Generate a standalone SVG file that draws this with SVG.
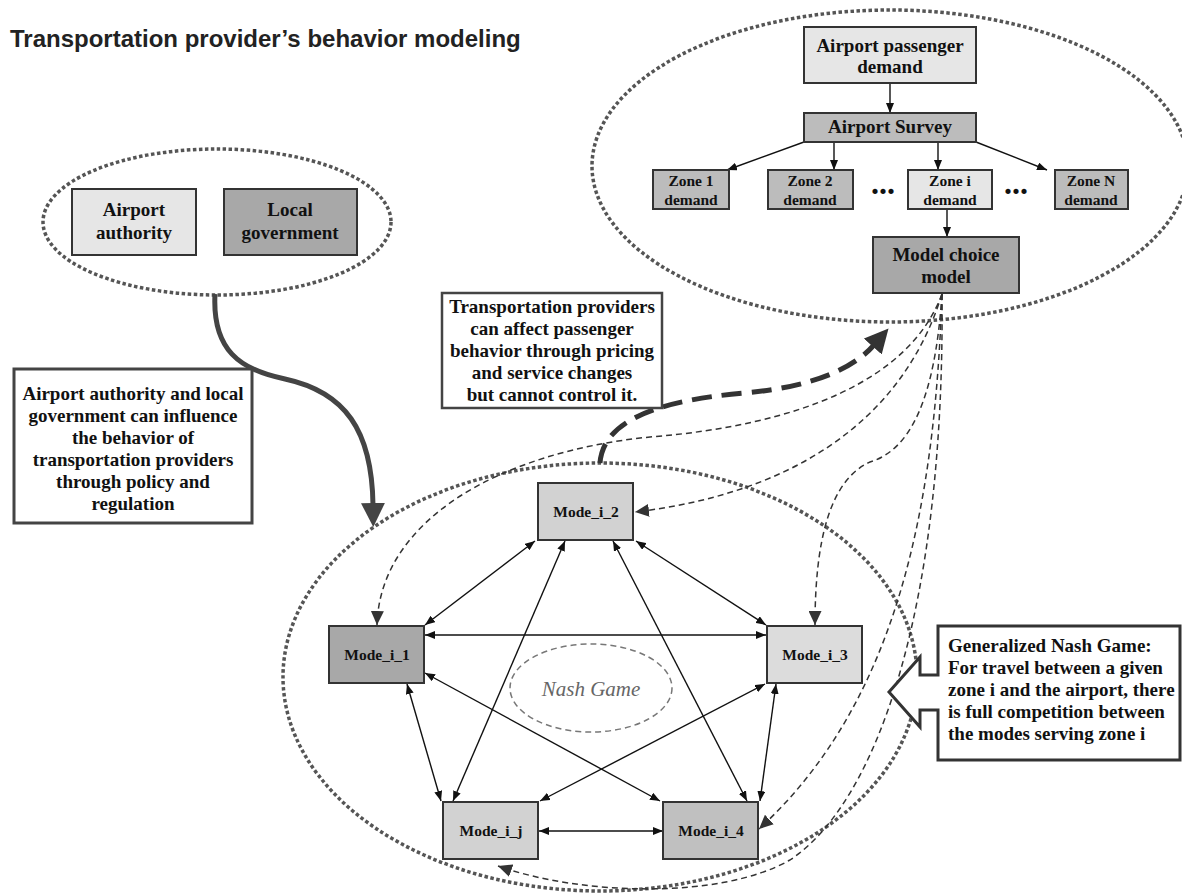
<svg xmlns="http://www.w3.org/2000/svg" width="1182" height="894" viewBox="0 0 1182 894">
<style>
.bg{fill:#fff}
.dot{fill:none;stroke:#555;stroke-width:3.5;stroke-dasharray:3.5 2.5}
.box{stroke:#333;stroke-width:2}
.tb{fill:#fff;stroke:#444;stroke-width:3}
.t{font-family:"Liberation Serif","Times New Roman",serif;font-weight:bold;fill:#111;text-anchor:middle}
.t19{font-size:19px}
.t15{font-size:15.5px}
.tl{text-anchor:start}
.ell{font-size:32px}
.solid{fill:none;stroke:#111;stroke-width:1.4}
.dash{fill:none;stroke:#333;stroke-width:1.5;stroke-dasharray:6 4}
.l1{fill:#e6e6e6}.l2{fill:#d2d2d2}.l3{fill:#dcdcdc}.d1{fill:#bcbcbc}.d2{fill:#a8a8a8}.d3{fill:#c0c0c0}
</style>
<defs>
<marker id="ah" viewBox="0 0 10 8" refX="10" refY="4" markerWidth="10" markerHeight="8" markerUnits="userSpaceOnUse" orient="auto-start-reverse"><path d="M0,0 L10,4 L0,8 z" fill="#111"/></marker>
<marker id="ahd" viewBox="0 0 14 13" refX="14" refY="6.5" markerWidth="14" markerHeight="13" markerUnits="userSpaceOnUse" orient="auto"><path d="M0,0 L14,6.5 L0,13 z" fill="#333"/></marker>
<marker id="ahk" viewBox="0 0 24 24" refX="2" refY="12" markerWidth="24" markerHeight="24" markerUnits="userSpaceOnUse" orient="auto"><path d="M0,0 L24,12 L0,24 z" fill="#333"/></marker>
<marker id="ahg" viewBox="0 0 24 24" refX="2" refY="12" markerWidth="24" markerHeight="24" markerUnits="userSpaceOnUse" orient="auto"><path d="M0,0 L24,12 L0,24 z" fill="#444"/></marker>
</defs>
<rect class="bg" width="1182" height="894"/>
<text x="10" y="47" style="font-family:'Liberation Sans',Arial,sans-serif;font-weight:bold;font-size:24px;fill:#222">Transportation provider’s behavior modeling</text>

<g id="groups">
<ellipse id="demand-group" class="dot" cx="890" cy="166" rx="298" ry="156"/>
<ellipse id="authority-group" class="dot" cx="217" cy="222" rx="174" ry="73"/>
<ellipse id="modes-group" class="dot" cx="600" cy="677" rx="317" ry="214"/>
<ellipse id="nash-game" cx="591" cy="688" rx="81" ry="44" fill="none" stroke="#777" stroke-width="1.5" stroke-dasharray="6 4"/>
<text x="591" y="696" style="font-family:'Liberation Serif','Times New Roman',serif;font-style:italic;font-size:21px;fill:#666;text-anchor:middle">Nash Game</text>
</g>

<g id="connectors">
<line class="solid" x1="890" y1="83" x2="890" y2="113" marker-end="url(#ah)"/>
<line class="solid" x1="804" y1="142" x2="727" y2="170" marker-end="url(#ah)"/>
<line class="solid" x1="834" y1="142" x2="834" y2="170" marker-end="url(#ah)"/>
<line class="solid" x1="938" y1="142" x2="938" y2="170" marker-end="url(#ah)"/>
<line class="solid" x1="976" y1="142" x2="1047" y2="170" marker-end="url(#ah)"/>
<line class="solid" x1="947" y1="209" x2="947" y2="237" marker-end="url(#ah)"/>

<line class="solid" x1="535" y1="541" x2="425" y2="625" marker-start="url(#ah)" marker-end="url(#ah)"/>
<line class="solid" x1="636" y1="541" x2="766" y2="625" marker-start="url(#ah)" marker-end="url(#ah)"/>
<line class="solid" x1="425" y1="635" x2="766" y2="635" marker-start="url(#ah)" marker-end="url(#ah)"/>
<line class="solid" x1="565" y1="541" x2="453" y2="801" marker-start="url(#ah)" marker-end="url(#ah)"/>
<line class="solid" x1="613" y1="541" x2="747" y2="801" marker-start="url(#ah)" marker-end="url(#ah)"/>
<line class="solid" x1="425" y1="673" x2="660" y2="801" marker-start="url(#ah)" marker-end="url(#ah)"/>
<line class="solid" x1="407" y1="684" x2="441" y2="801" marker-start="url(#ah)" marker-end="url(#ah)"/>
<line class="solid" x1="765" y1="684" x2="540" y2="801" marker-start="url(#ah)" marker-end="url(#ah)"/>
<line class="solid" x1="776" y1="684" x2="760" y2="801" marker-start="url(#ah)" marker-end="url(#ah)"/>
<line class="solid" x1="539" y1="831" x2="663" y2="831" marker-start="url(#ah)" marker-end="url(#ah)"/>

<path class="dash" d="M942,294 C910,380 800,425 650,437 C500,452 380,520 377,625" marker-end="url(#ahd)"/>
<path class="dash" d="M942,294 C900,430 780,495 635,512" marker-end="url(#ahd)"/>
<path class="dash" d="M942,294 C935,400 910,450 870,462 C830,480 815,540 815,625" marker-end="url(#ahd)"/>
<path class="dash" d="M942,294 C935,500 900,700 759,829" marker-end="url(#ahd)"/>
<path class="dash" d="M942,294 C945,600 880,800 790,860 C720,900 580,895 498,866" marker-end="url(#ahd)"/>

<path d="M215,294 C212,350 240,370 285,379 C345,392 372,430 373,505" fill="none" stroke="#444" stroke-width="5" marker-end="url(#ahg)"/>
<path d="M600,463 C603,420 660,400 745,393 C810,387 852,370 874,345" fill="none" stroke="#333" stroke-width="5" stroke-dasharray="20 10" marker-end="url(#ahk)"/>
</g>

<g id="airport-passenger-demand"><rect class="box l1" x="804" y="27" width="172" height="56"/><text class="t t19" x="890" y="52">Airport passenger</text><text class="t t19" x="890" y="73">demand</text></g>
<g id="airport-survey"><rect class="box d1" x="804" y="113" width="172" height="29"/><text class="t t19" x="890" y="133">Airport Survey</text></g>
<g id="zone-1"><rect class="box d1" x="653" y="170" width="76" height="39"/><text class="t t15" x="691" y="186">Zone 1</text><text class="t t15" x="691" y="205">demand</text></g>
<g id="zone-2"><rect class="box d1" x="768" y="170" width="85" height="39"/><text class="t t15" x="810" y="186">Zone 2</text><text class="t t15" x="810" y="205">demand</text></g>
<g id="zone-i"><rect class="box l1" x="908" y="170" width="84" height="39"/><text class="t t15" x="950" y="186">Zone i</text><text class="t t15" x="950" y="205">demand</text></g>
<g id="zone-n"><rect class="box d1" x="1055" y="170" width="73" height="39"/><text class="t t15" x="1091" y="186">Zone N</text><text class="t t15" x="1091" y="205">demand</text></g>
<text class="t ell" x="883" y="194">...</text>
<text class="t ell" x="1016" y="194">...</text>
<g id="model-choice-model"><rect class="box d2" x="873" y="237" width="146" height="56"/><text class="t t19" x="946" y="261">Model choice</text><text class="t t19" x="946" y="283">model</text></g>

<g id="airport-authority"><rect class="box l1" x="72" y="189" width="124" height="66"/><text class="t t19" x="134" y="216">Airport</text><text class="t t19" x="134" y="239">authority</text></g>
<g id="local-government"><rect class="box d2" x="224" y="189" width="133" height="66"/><text class="t t19" x="290" y="216">Local</text><text class="t t19" x="290" y="239">government</text></g>

<g id="note-influence"><rect class="tb" x="14" y="369" width="238" height="154"/>
<text class="t t19" x="133" y="400">Airport authority and local</text>
<text class="t t19" x="133" y="422">government can influence</text>
<text class="t t19" x="133" y="444">the behavior of</text>
<text class="t t19" x="133" y="466">transportation providers</text>
<text class="t t19" x="133" y="488">through policy and</text>
<text class="t t19" x="133" y="510">regulation</text></g>

<g id="note-providers"><rect class="tb" x="442" y="293" width="220" height="115" style="stroke-width:2.5"/>
<text class="t t19" x="552" y="313">Transportation providers</text>
<text class="t t19" x="552" y="335">can affect passenger</text>
<text class="t t19" x="552" y="357">behavior through pricing</text>
<text class="t t19" x="552" y="379">and service changes</text>
<text class="t t19" x="552" y="401">but cannot control it.</text></g>

<g id="mode-i-2"><rect class="box l2" x="538" y="483" width="95" height="57"/><text class="t t15" x="586" y="517">Mode_i_2</text></g>
<g id="mode-i-1"><rect class="box d2" x="329" y="626" width="95" height="57"/><text class="t t15" x="377" y="660">Mode_i_1</text></g>
<g id="mode-i-3"><rect class="box l3" x="767" y="626" width="95" height="57"/><text class="t t15" x="815" y="660">Mode_i_3</text></g>
<g id="mode-i-j"><rect class="box l2" x="443" y="802" width="95" height="57"/><text class="t t15" x="491" y="836">Mode_i_j</text></g>
<g id="mode-i-4"><rect class="box d3" x="663" y="802" width="95" height="57"/><text class="t t15" x="711" y="836">Mode_i_4</text></g>

<g id="note-nash"><path d="M938,626 L1180,626 L1180,760 L938,760 L938,710 L920,710 L920,727 L889,692 L920,657 L920,675 L938,675 Z" fill="#fff" stroke="#333" stroke-width="3"/>
<text class="t t19 tl" x="948" y="652">Generalized Nash Game:</text>
<text class="t t19 tl" x="948" y="674">For travel between a given</text>
<text class="t t19 tl" x="948" y="696">zone i and the airport, there</text>
<text class="t t19 tl" x="948" y="718">is full competition between</text>
<text class="t t19 tl" x="948" y="740">the modes serving zone i</text></g>
</svg>
